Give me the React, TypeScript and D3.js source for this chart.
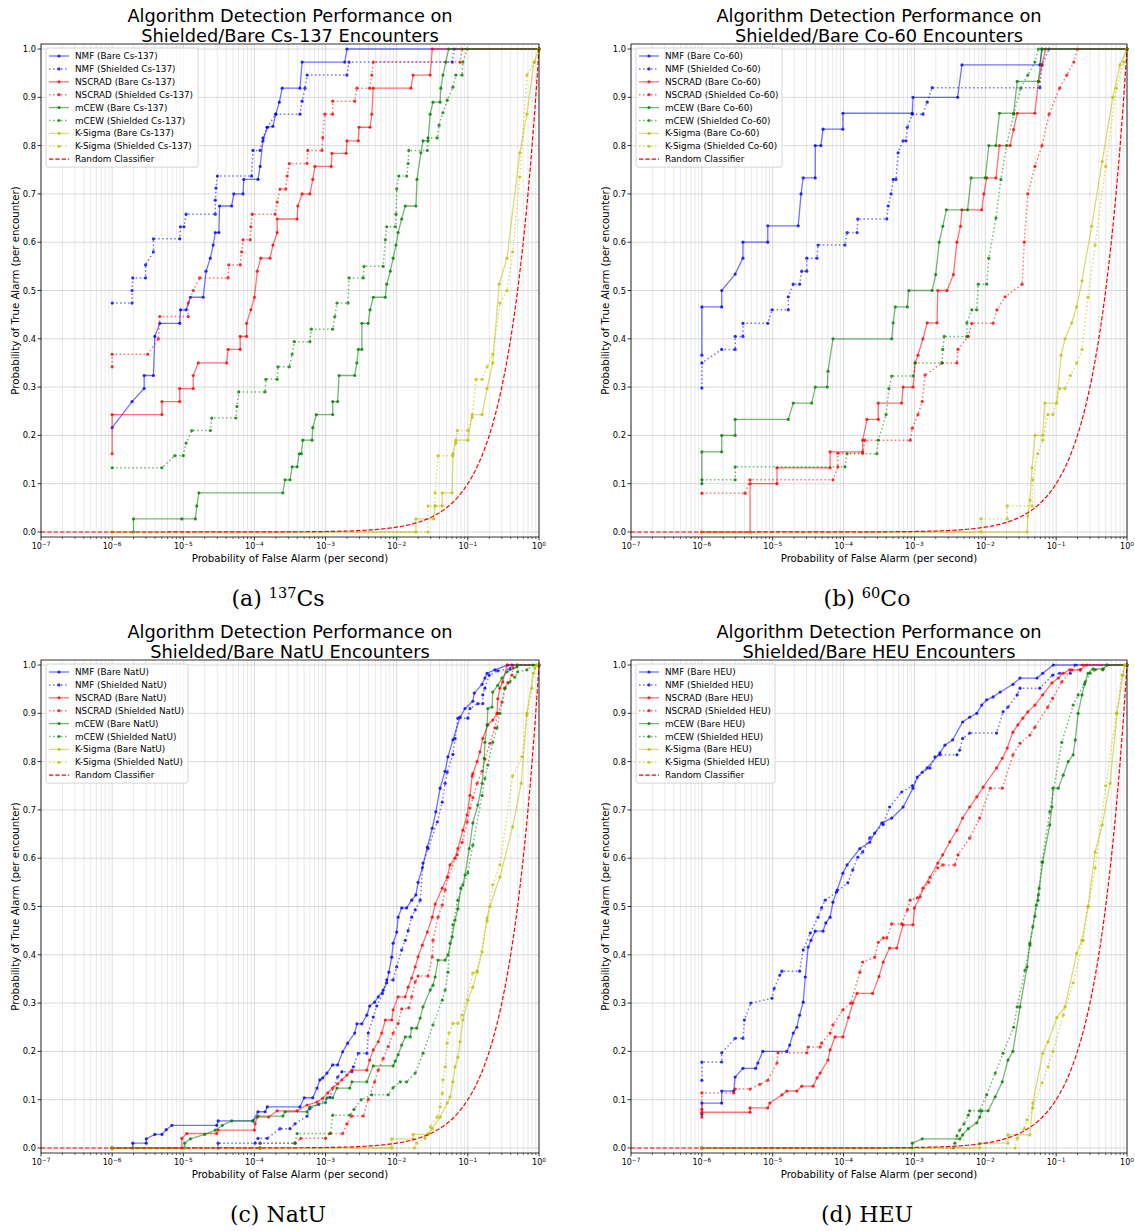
import React from 'react';
import * as d3 from 'd3';

// points are [log10(P_FA per second), P_TA per encounter]
type Pt = [number, number];

const algorithms = ['NMF', 'NSCRAD', 'mCEW', 'K-Sigma'];
const algoColors = ['#0000ff', '#ff0000', '#008000', '#bfbf00'];
const yTicks = [0, 0.1, 0.2, 0.3, 0.4, 0.5, 0.6, 0.7, 0.8, 0.9, 1.0];
const xDecades = [-7, -6, -5, -4, -3, -2, -1, 0];

// ---------- (a) Cs-137 ----------
const csNmfBare: Pt[] = [[-6,0.216],[-5.72,0.27],[-5.55,0.297],[-5.55,0.324],[-5.42,0.324],[-5.40,0.405],[-5.33,0.432],[-5.05,0.432],[-5.04,0.46],[-4.96,0.46],[-4.9,0.486],[-4.72,0.486],[-4.68,0.54],[-4.62,0.567],[-4.58,0.594],[-4.55,0.62],[-4.5,0.62],[-4.49,0.675],[-4.32,0.675],[-4.29,0.70],[-4.16,0.70],[-4.15,0.73],[-3.95,0.73],[-3.92,0.757],[-3.88,0.81],[-3.82,0.838],[-3.74,0.84],[-3.70,0.865],[-3.65,0.89],[-3.61,0.919],[-3.36,0.919],[-3.33,0.973],[-2.73,0.973],[-2.70,1.0],[0,1.0]];
const csNmfShielded: Pt[] = [[-6,0.474],[-5.72,0.474],[-5.72,0.50],[-5.71,0.526],[-5.53,0.526],[-5.53,0.553],[-5.42,0.58],[-5.42,0.607],[-5.05,0.607],[-5.04,0.632],[-4.99,0.632],[-4.96,0.658],[-4.55,0.658],[-4.55,0.687],[-4.54,0.712],[-4.52,0.737],[-4.04,0.737],[-4.02,0.79],[-3.92,0.79],[-3.88,0.816],[-3.82,0.838],[-3.70,0.865],[-3.36,0.865],[-3.33,0.892],[-3.29,0.919],[-3.26,0.946],[-2.70,0.946],[-2.67,0.973],[-1.22,0.973],[-1.19,1.0],[0,1.0]];
const csNscradBare: Pt[] = [[-6,0.162],[-6,0.243],[-5.3,0.243],[-5.3,0.27],[-5.05,0.27],[-5.05,0.297],[-4.86,0.297],[-4.86,0.324],[-4.79,0.35],[-4.39,0.35],[-4.37,0.378],[-4.2,0.378],[-4.2,0.405],[-4.11,0.405],[-4.11,0.432],[-4.05,0.46],[-4.0,0.486],[-3.96,0.54],[-3.91,0.567],[-3.78,0.567],[-3.74,0.594],[-3.68,0.62],[-3.68,0.648],[-3.40,0.648],[-3.39,0.675],[-3.33,0.70],[-3.22,0.70],[-3.18,0.73],[-3.15,0.757],[-2.92,0.757],[-2.91,0.784],[-2.71,0.784],[-2.70,0.81],[-2.54,0.81],[-2.53,0.838],[-2.375,0.838],[-2.35,0.865],[-2.33,0.919],[-1.80,0.919],[-1.77,0.946],[-1.53,0.946],[-1.50,1.0],[0,1.0]];
const csNscradShielded: Pt[] = [[-6,0.342],[-6,0.368],[-5.5,0.368],[-5.35,0.40],[-5.33,0.446],[-4.93,0.446],[-4.93,0.474],[-4.86,0.50],[-4.77,0.526],[-4.37,0.526],[-4.36,0.553],[-4.2,0.553],[-4.18,0.58],[-4.16,0.605],[-4.06,0.605],[-4.05,0.632],[-4.03,0.658],[-3.71,0.658],[-3.68,0.683],[-3.64,0.71],[-3.56,0.71],[-3.54,0.737],[-3.51,0.763],[-3.26,0.763],[-3.25,0.79],[-3.05,0.79],[-3.04,0.816],[-3.01,0.865],[-2.9,0.865],[-2.9,0.892],[-2.59,0.892],[-2.56,0.919],[-2.38,0.919],[-2.35,0.946],[-2.33,0.973],[-1.11,0.973],[-1.08,1.0],[0,1.0]];
const csMcewBare: Pt[] = [[-5.70,0],[-5.70,0.027],[-5.02,0.027],[-4.83,0.027],[-4.81,0.054],[-4.78,0.081],[-3.60,0.081],[-3.57,0.108],[-3.50,0.108],[-3.47,0.135],[-3.40,0.135],[-3.37,0.162],[-3.34,0.162],[-3.32,0.19],[-3.19,0.19],[-3.18,0.216],[-3.13,0.243],[-2.9,0.243],[-2.9,0.27],[-2.83,0.27],[-2.81,0.324],[-2.59,0.324],[-2.56,0.35],[-2.54,0.378],[-2.49,0.378],[-2.49,0.432],[-2.40,0.432],[-2.375,0.46],[-2.33,0.486],[-2.16,0.486],[-2.14,0.513],[-2.09,0.54],[-2.05,0.567],[-2.01,0.594],[-1.98,0.62],[-1.93,0.648],[-1.88,0.675],[-1.73,0.675],[-1.715,0.73],[-1.66,0.785],[-1.63,0.81],[-1.56,0.81],[-1.53,0.865],[-1.49,0.89],[-1.39,0.89],[-1.38,0.919],[-1.35,0.946],[-1.31,0.973],[-1.27,1.0],[0,1.0]];
const csMcewShielded: Pt[] = [[-6,0.133],[-5.3,0.133],[-5.12,0.158],[-5.0,0.158],[-4.96,0.184],[-4.88,0.21],[-4.62,0.21],[-4.6,0.236],[-4.26,0.236],[-4.245,0.26],[-4.22,0.29],[-3.85,0.29],[-3.84,0.316],[-3.68,0.316],[-3.67,0.342],[-3.51,0.342],[-3.47,0.368],[-3.44,0.394],[-3.22,0.394],[-3.2,0.42],[-2.9,0.42],[-2.87,0.446],[-2.84,0.474],[-2.685,0.474],[-2.67,0.526],[-2.47,0.526],[-2.46,0.55],[-2.19,0.55],[-2.16,0.605],[-2.14,0.632],[-2.02,0.632],[-2.01,0.658],[-2.0,0.71],[-1.97,0.737],[-1.86,0.737],[-1.84,0.763],[-1.83,0.79],[-1.57,0.79],[-1.56,0.816],[-1.43,0.816],[-1.405,0.842],[-1.35,0.868],[-1.29,0.894],[-1.21,0.921],[-1.17,0.946],[-1.08,0.946],[-1.07,0.973],[-1.01,1.0],[0,1.0]];
const csKsigmaBare: Pt[] = [[-6,0],[-1.73,0],[-1.73,0.027],[-1.48,0.027],[-1.46,0.054],[-1.36,0.054],[-1.36,0.081],[-1.22,0.081],[-1.21,0.162],[-1.17,0.19],[-1.0,0.19],[-0.94,0.243],[-0.8,0.243],[-0.73,0.297],[-0.65,0.35],[-0.56,0.513],[-0.45,0.567],[-0.27,0.785],[-0.17,0.865],[-0.07,0.973],[0,1.0]];
const csKsigmaShielded: Pt[] = [[-6,0],[-1.56,0],[-1.56,0.054],[-1.46,0.054],[-1.46,0.081],[-1.42,0.158],[-1.21,0.158],[-1.17,0.184],[-1.15,0.21],[-1.0,0.21],[-0.94,0.237],[-0.885,0.316],[-0.8,0.316],[-0.73,0.342],[-0.65,0.368],[-0.55,0.474],[-0.45,0.50],[-0.37,0.58],[-0.27,0.735],[-0.17,0.946],[-0.06,0.973],[0,1.0]];

// ---------- (b) Co-60 ----------
const coNmfBare: Pt[] = [[-6,0.366],[-6,0.466],[-5.72,0.466],[-5.72,0.50],[-5.53,0.534],[-5.42,0.567],[-5.42,0.60],[-5.07,0.60],[-5.07,0.634],[-4.64,0.634],[-4.60,0.70],[-4.57,0.733],[-4.40,0.733],[-4.40,0.80],[-4.32,0.80],[-4.29,0.834],[-4.01,0.834],[-4.01,0.867],[-3.03,0.867],[-3.02,0.90],[-2.39,0.90],[-2.33,0.967],[-1.23,0.967],[-1.20,1.0],[0,1.0]];
const coNmfShielded: Pt[] = [[-6,0.298],[-6,0.35],[-5.72,0.378],[-5.53,0.378],[-5.53,0.405],[-5.42,0.405],[-5.42,0.432],[-5.07,0.432],[-5.01,0.46],[-4.78,0.46],[-4.78,0.487],[-4.71,0.513],[-4.62,0.513],[-4.59,0.54],[-4.52,0.54],[-4.52,0.567],[-4.375,0.567],[-4.36,0.594],[-3.98,0.594],[-3.95,0.62],[-3.81,0.62],[-3.80,0.648],[-3.39,0.648],[-3.37,0.675],[-3.33,0.70],[-3.30,0.73],[-3.26,0.73],[-3.23,0.785],[-3.16,0.81],[-3.12,0.81],[-3.1,0.838],[-3.03,0.865],[-2.88,0.865],[-2.82,0.89],[-2.75,0.92],[-1.23,0.92],[-1.2,0.967],[-1.1,1.0],[0,1.0]];
const coNscradBare: Pt[] = [[-6,0],[-5.32,0],[-5.32,0.10],[-4.94,0.10],[-4.94,0.133],[-4.19,0.133],[-4.19,0.166],[-3.73,0.166],[-3.73,0.19],[-3.67,0.233],[-3.51,0.233],[-3.51,0.267],[-3.18,0.267],[-3.16,0.30],[-3.02,0.30],[-2.99,0.35],[-2.95,0.366],[-2.88,0.40],[-2.82,0.433],[-2.68,0.433],[-2.67,0.50],[-2.54,0.50],[-2.45,0.533],[-2.40,0.60],[-2.35,0.633],[-2.33,0.667],[-2.05,0.667],[-2.02,0.70],[-1.98,0.733],[-1.85,0.733],[-1.80,0.80],[-1.65,0.80],[-1.6,0.833],[-1.55,0.867],[-1.3,0.867],[-1.25,0.933],[-1.2,0.967],[-1.15,1.0],[0,1.0]];
const coNscradShielded: Pt[] = [[-6,0.08],[-5.39,0.08],[-5.32,0.108],[-4.15,0.108],[-4.08,0.135],[-4.08,0.163],[-3.73,0.163],[-3.7,0.19],[-3.06,0.19],[-3.03,0.215],[-2.95,0.243],[-2.89,0.27],[-2.85,0.325],[-2.61,0.35],[-2.40,0.35],[-2.385,0.378],[-2.24,0.405],[-2.19,0.432],[-1.89,0.432],[-1.835,0.46],[-1.72,0.487],[-1.48,0.513],[-1.45,0.60],[-1.4,0.70],[-1.3,0.757],[-1.2,0.80],[-1.1,0.865],[-0.95,0.919],[-0.85,0.946],[-0.75,0.973],[-0.7,1.0],[0,1.0]];
const coMcewBare: Pt[] = [[-6,0.10],[-6,0.166],[-5.72,0.166],[-5.72,0.20],[-5.53,0.20],[-5.53,0.233],[-4.78,0.233],[-4.71,0.267],[-4.45,0.267],[-4.40,0.30],[-4.23,0.30],[-4.22,0.333],[-4.15,0.40],[-3.32,0.40],[-3.30,0.433],[-3.27,0.466],[-3.1,0.466],[-3.08,0.50],[-2.75,0.50],[-2.7,0.533],[-2.65,0.60],[-2.6,0.633],[-2.55,0.667],[-2.25,0.667],[-2.2,0.733],[-2.0,0.733],[-1.95,0.80],[-1.85,0.80],[-1.8,0.867],[-1.6,0.867],[-1.55,0.933],[-1.25,0.933],[-1.2,1.0],[0,1.0]];
const coMcewShielded: Pt[] = [[-6,0.108],[-5.53,0.108],[-5.53,0.135],[-3.98,0.135],[-3.95,0.162],[-3.53,0.162],[-3.51,0.19],[-3.4,0.243],[-3.36,0.297],[-3.32,0.323],[-3.02,0.323],[-2.99,0.35],[-2.61,0.35],[-2.60,0.378],[-2.58,0.405],[-2.26,0.405],[-2.26,0.433],[-2.19,0.46],[-2.12,0.46],[-2.10,0.513],[-1.98,0.513],[-1.95,0.567],[-1.85,0.65],[-1.78,0.73],[-1.7,0.80],[-1.6,0.865],[-1.5,0.919],[-1.4,0.946],[-1.3,0.973],[-1.25,1.0],[0,1.0]];
const coKsigmaBare: Pt[] = [[-6,0],[-1.41,0],[-1.40,0.033],[-1.37,0.066],[-1.34,0.133],[-1.30,0.20],[-1.19,0.20],[-1.16,0.267],[-0.99,0.267],[-0.93,0.366],[-0.875,0.40],[-0.78,0.433],[-0.71,0.466],[-0.635,0.52],[-0.5,0.633],[-0.35,0.767],[-0.2,0.90],[-0.1,0.967],[0,1.0]];
const coKsigmaShielded: Pt[] = [[-6,0],[-2.06,0],[-2.06,0.027],[-1.69,0.027],[-1.69,0.054],[-1.34,0.054],[-1.33,0.108],[-1.26,0.162],[-1.19,0.19],[-1.115,0.243],[-1.045,0.243],[-0.95,0.297],[-0.875,0.297],[-0.8,0.324],[-0.71,0.35],[-0.635,0.378],[-0.55,0.486],[-0.45,0.594],[-0.3,0.757],[-0.15,0.919],[-0.05,0.973],[0,1.0]];

// ---------- (c) NatU ----------
const natNmfBare: Pt[] = [[-5.71,0],[-5.71,0.01],[-5.52,0.01],[-5.52,0.019],[-5.40,0.028],[-5.30,0.028],[-5.24,0.038],[-5.16,0.047],[-4.53,0.047],[-4.51,0.056],[-4.02,0.056],[-3.95,0.075],[-3.85,0.075],[-3.82,0.085],[-3.36,0.085],[-3.30,0.104],[-3.18,0.104],[-3.12,0.124],[-3.08,0.141],[-3.04,0.145],[-2.98,0.155],[-2.9,0.172],[-2.83,0.172],[-2.76,0.199],[-2.69,0.217],[-2.59,0.238],[-2.56,0.257],[-2.49,0.257],[-2.42,0.275],[-2.38,0.294],[-2.31,0.302],[-2.26,0.313],[-2.19,0.327],[-2.14,0.342],[-2.11,0.364],[-2.07,0.395],[-2.05,0.424],[-2.0,0.447],[-1.98,0.478],[-1.93,0.497],[-1.86,0.497],[-1.79,0.513],[-1.73,0.524],[-1.70,0.55],[-1.64,0.58],[-1.57,0.623],[-1.50,0.662],[-1.45,0.696],[-1.39,0.745],[-1.32,0.78],[-1.28,0.81],[-1.21,0.845],[-1.11,0.892],[-1.04,0.91],[-0.93,0.925],[-0.91,0.942],[-0.80,0.96],[-0.76,0.973],[-0.73,0.983],[-0.62,0.99],[-0.44,1.0],[0,1.0]];
const natNmfShielded: Pt[] = [[-6,0],[-4.51,0],[-4.51,0.01],[-3.99,0.01],[-3.95,0.02],[-3.82,0.02],[-3.64,0.04],[-3.5,0.04],[-3.43,0.05],[-3.26,0.066],[-3.22,0.082],[-3.1,0.09],[-2.94,0.105],[-2.83,0.147],[-2.77,0.158],[-2.63,0.158],[-2.61,0.168],[-2.54,0.196],[-2.42,0.196],[-2.40,0.238],[-2.33,0.271],[-2.28,0.294],[-2.2,0.32],[-2.14,0.348],[-2.05,0.348],[-2.0,0.375],[-1.93,0.41],[-1.88,0.43],[-1.84,0.45],[-1.79,0.478],[-1.74,0.493],[-1.67,0.513],[-1.63,0.59],[-1.56,0.62],[-1.43,0.675],[-1.36,0.716],[-1.32,0.755],[-1.29,0.778],[-1.21,0.815],[-1.18,0.848],[-1.14,0.89],[-1.0,0.89],[-0.97,0.91],[-0.86,0.92],[-0.79,0.92],[-0.79,0.938],[-0.76,0.952],[-0.70,0.979],[-0.58,0.988],[-0.41,0.992],[-0.38,1.0],[0,1.0]];
const natNscradBare: Pt[] = [[-6,0],[-5.02,0],[-5.02,0.02],[-4.95,0.03],[-4.53,0.03],[-4.51,0.037],[-4.0,0.037],[-3.99,0.05],[-3.96,0.064],[-3.8,0.064],[-3.68,0.077],[-3.40,0.077],[-3.26,0.089],[-3.12,0.095],[-3.04,0.103],[-2.97,0.114],[-2.9,0.124],[-2.83,0.133],[-2.77,0.141],[-2.7,0.151],[-2.63,0.161],[-2.42,0.161],[-2.38,0.182],[-2.33,0.203],[-2.26,0.22],[-2.21,0.238],[-2.16,0.265],[-2.07,0.265],[-2.05,0.286],[-1.98,0.313],[-1.88,0.313],[-1.84,0.333],[-1.79,0.352],[-1.74,0.375],[-1.70,0.396],[-1.64,0.42],[-1.57,0.447],[-1.50,0.478],[-1.46,0.505],[-1.36,0.538],[-1.29,0.561],[-1.25,0.586],[-1.18,0.60],[-1.14,0.62],[-1.07,0.658],[-1.01,0.69],[-0.97,0.73],[-0.94,0.77],[-0.93,0.775],[-0.87,0.80],[-0.83,0.82],[-0.79,0.848],[-0.72,0.876],[-0.65,0.886],[-0.59,0.90],[-0.58,0.93],[-0.55,0.952],[-0.51,0.965],[-0.45,1.0],[0,1.0]];
const natNscradShielded: Pt[] = [[-6,0],[-3.92,0],[-3.92,0.01],[-3.43,0.01],[-3.35,0.02],[-3.0,0.02],[-2.94,0.03],[-2.76,0.03],[-2.7,0.05],[-2.63,0.066],[-2.47,0.066],[-2.40,0.10],[-2.31,0.137],[-2.26,0.161],[-2.19,0.185],[-2.12,0.21],[-2.05,0.238],[-1.98,0.258],[-1.93,0.288],[-1.83,0.29],[-1.79,0.313],[-1.74,0.344],[-1.70,0.356],[-1.56,0.356],[-1.50,0.396],[-1.49,0.43],[-1.42,0.478],[-1.36,0.503],[-1.32,0.534],[-1.28,0.561],[-1.15,0.607],[-1.08,0.633],[-1.01,0.675],[-0.97,0.704],[-0.93,0.725],[-0.87,0.755],[-0.80,0.78],[-0.76,0.805],[-0.69,0.838],[-0.62,0.87],[-0.58,0.90],[-0.52,0.923],[-0.48,0.952],[-0.44,0.963],[-0.38,0.979],[-0.365,0.994],[-0.31,1.0],[0,1.0]];
const natMcewBare: Pt[] = [[-6,0],[-4.98,0],[-4.98,0.01],[-4.9,0.019],[-4.7,0.028],[-4.55,0.037],[-4.45,0.047],[-4.32,0.056],[-4.02,0.056],[-3.95,0.066],[-3.6,0.066],[-3.57,0.075],[-3.26,0.075],[-3.22,0.085],[-3.0,0.094],[-2.98,0.104],[-2.9,0.104],[-2.84,0.124],[-2.66,0.124],[-2.63,0.137],[-2.42,0.137],[-2.33,0.17],[-2.05,0.17],[-2.02,0.18],[-1.98,0.193],[-1.93,0.213],[-1.88,0.23],[-1.81,0.23],[-1.79,0.248],[-1.72,0.248],[-1.67,0.269],[-1.63,0.292],[-1.53,0.327],[-1.49,0.337],[-1.46,0.354],[-1.42,0.389],[-1.32,0.389],[-1.28,0.40],[-1.22,0.437],[-1.18,0.472],[-1.14,0.495],[-1.10,0.538],[-1.07,0.545],[-1.04,0.565],[-0.98,0.62],[-0.93,0.673],[-0.86,0.71],[-0.80,0.755],[-0.77,0.807],[-0.76,0.84],[-0.73,0.876],[-0.72,0.91],[-0.66,0.913],[-0.65,0.944],[-0.58,0.958],[-0.52,0.973],[-0.45,0.986],[-0.31,0.996],[-0.30,1.0],[0,1.0]];
const natMcewShielded: Pt[] = [[-6,0],[-3.92,0],[-3.92,0.01],[-3.43,0.01],[-3.40,0.03],[-2.93,0.03],[-2.9,0.068],[-2.66,0.068],[-2.6,0.08],[-2.5,0.10],[-2.35,0.11],[-2.12,0.11],[-2.05,0.125],[-1.95,0.137],[-1.86,0.137],[-1.74,0.155],[-1.63,0.196],[-1.49,0.255],[-1.36,0.306],[-1.32,0.327],[-1.28,0.364],[-1.25,0.424],[-1.21,0.462],[-1.14,0.513],[-1.0,0.57],[-0.93,0.627],[-0.8,0.73],[-0.76,0.765],[-0.72,0.793],[-0.65,0.84],[-0.59,0.87],[-0.55,0.90],[-0.48,0.952],[-0.41,0.965],[-0.34,0.975],[-0.30,0.986],[-0.17,0.99],[-0.08,1.0],[0,1.0]];
const natKsigmaBare: Pt[] = [[-6,0],[-2.07,0],[-2.07,0.019],[-1.77,0.019],[-1.77,0.028],[-1.56,0.028],[-1.5,0.04],[-1.39,0.064],[-1.29,0.093],[-1.25,0.106],[-1.21,0.137],[-1.18,0.168],[-1.14,0.188],[-1.11,0.22],[-1.07,0.265],[-1.0,0.306],[-0.93,0.333],[-0.87,0.364],[-0.80,0.406],[-0.73,0.476],[-0.69,0.50],[-0.55,0.561],[-0.37,0.665],[-0.25,0.755],[-0.17,0.90],[-0.08,0.983],[-0.03,1.0],[0,1.0]];
const natKsigmaShielded: Pt[] = [[-6,0],[-1.75,0],[-1.72,0.01],[-1.6,0.02],[-1.55,0.03],[-1.53,0.044],[-1.43,0.064],[-1.39,0.085],[-1.36,0.113],[-1.35,0.141],[-1.32,0.168],[-1.29,0.217],[-1.265,0.238],[-1.21,0.258],[-1.14,0.258],[-1.08,0.275],[-0.93,0.362],[-0.87,0.366],[-0.73,0.47],[-0.65,0.545],[-0.55,0.586],[-0.37,0.77],[-0.24,0.81],[-0.17,0.896],[-0.10,0.952],[-0.06,0.994],[-0.03,1.0],[0,1.0]];

// ---------- (d) HEU ----------
const heuNmfBare: Pt[] = [[-6,0.07],[-6,0.093],[-5.72,0.093],[-5.72,0.118],[-5.55,0.118],[-5.53,0.147],[-5.42,0.165],[-5.24,0.165],[-5.21,0.176],[-5.14,0.20],[-4.80,0.20],[-4.76,0.213],[-4.71,0.238],[-4.66,0.25],[-4.62,0.275],[-4.57,0.302],[-4.54,0.354],[-4.50,0.416],[-4.46,0.43],[-4.40,0.449],[-4.29,0.449],[-4.25,0.466],[-4.19,0.478],[-4.15,0.509],[-4.09,0.534],[-4.01,0.569],[-3.95,0.586],[-3.77,0.62],[-3.63,0.633],[-3.56,0.652],[-3.46,0.673],[-3.32,0.683],[-3.16,0.706],[-3.02,0.745],[-2.96,0.768],[-2.82,0.787],[-2.64,0.818],[-2.57,0.834],[-2.46,0.845],[-2.32,0.882],[-2.22,0.892],[-2.12,0.90],[-2.05,0.917],[-1.98,0.928],[-1.89,0.934],[-1.79,0.944],[-1.61,0.96],[-1.51,0.973],[-1.27,0.973],[-1.19,0.983],[-1.04,1.0],[0,1.0]];
const heuNmfShielded: Pt[] = [[-6,0.14],[-6,0.178],[-5.72,0.178],[-5.72,0.197],[-5.53,0.227],[-5.42,0.227],[-5.40,0.265],[-5.31,0.30],[-5.01,0.31],[-4.98,0.33],[-4.90,0.358],[-4.87,0.366],[-4.62,0.366],[-4.57,0.41],[-4.47,0.445],[-4.36,0.478],[-4.31,0.497],[-4.26,0.513],[-4.1,0.53],[-3.94,0.549],[-3.87,0.576],[-3.80,0.602],[-3.73,0.613],[-3.63,0.642],[-3.44,0.67],[-3.35,0.706],[-3.18,0.737],[-3.03,0.75],[-2.89,0.778],[-2.78,0.787],[-2.71,0.81],[-2.64,0.814],[-2.40,0.814],[-2.36,0.824],[-2.32,0.848],[-2.22,0.859],[-1.84,0.859],[-1.75,0.903],[-1.68,0.913],[-1.55,0.938],[-1.51,0.952],[-1.23,0.952],[-1.05,0.979],[-0.95,0.983],[-0.8,0.983],[-0.73,1.0],[0,1.0]];
const heuNscradBare: Pt[] = [[-6,0.064],[-6,0.074],[-5.32,0.074],[-5.32,0.083],[-5.07,0.083],[-5.04,0.093],[-4.87,0.11],[-4.80,0.118],[-4.66,0.118],[-4.59,0.128],[-4.43,0.128],[-4.375,0.145],[-4.33,0.155],[-4.22,0.182],[-4.19,0.203],[-4.12,0.23],[-4.01,0.23],[-3.93,0.27],[-3.87,0.30],[-3.81,0.32],[-3.59,0.32],[-3.5,0.355],[-3.44,0.385],[-3.35,0.414],[-3.25,0.414],[-3.16,0.462],[-3.02,0.462],[-3.0,0.497],[-2.92,0.52],[-2.88,0.538],[-2.78,0.561],[-2.67,0.59],[-2.6,0.607],[-2.5,0.634],[-2.4,0.658],[-2.32,0.683],[-2.22,0.706],[-2.12,0.727],[-2.03,0.747],[-1.84,0.787],[-1.76,0.807],[-1.69,0.828],[-1.61,0.861],[-1.54,0.876],[-1.47,0.89],[-1.40,0.903],[-1.30,0.917],[-1.19,0.938],[-1.06,0.963],[-0.97,0.973],[-0.90,0.983],[-0.81,0.99],[-0.66,0.99],[-0.57,1.0],[0,1.0]];
const heuNscradShielded: Pt[] = [[-6,0.08],[-6,0.114],[-5.55,0.114],[-5.53,0.122],[-5.32,0.122],[-5.18,0.132],[-5.07,0.14],[-4.94,0.176],[-4.925,0.197],[-4.52,0.197],[-4.50,0.209],[-4.33,0.209],[-4.31,0.217],[-4.19,0.238],[-4.15,0.255],[-4.01,0.286],[-3.9,0.30],[-3.77,0.364],[-3.73,0.385],[-3.56,0.395],[-3.51,0.426],[-3.44,0.435],[-3.39,0.435],[-3.32,0.464],[-3.18,0.464],[-3.1,0.493],[-3.06,0.513],[-2.96,0.518],[-2.8,0.55],[-2.67,0.58],[-2.6,0.586],[-2.43,0.586],[-2.385,0.607],[-2.22,0.642],[-2.08,0.683],[-1.93,0.745],[-1.76,0.745],[-1.61,0.814],[-1.51,0.838],[-1.37,0.855],[-1.30,0.871],[-1.12,0.913],[-1.05,0.931],[-0.92,0.965],[-0.78,0.99],[-0.66,0.99],[-0.62,1.0],[0,1.0]];
const heuMcewBare: Pt[] = [[-6,0],[-3.03,0],[-3.03,0.01],[-2.89,0.019],[-2.36,0.019],[-2.32,0.027],[-2.24,0.04],[-2.12,0.052],[-2.08,0.064],[-2.05,0.077],[-1.96,0.077],[-1.86,0.106],[-1.76,0.137],[-1.68,0.182],[-1.61,0.20],[-1.51,0.292],[-1.41,0.375],[-1.37,0.424],[-1.33,0.458],[-1.28,0.503],[-1.25,0.524],[-1.19,0.592],[-1.09,0.669],[-1.06,0.706],[-1.045,0.745],[-0.97,0.745],[-0.90,0.772],[-0.83,0.80],[-0.76,0.814],[-0.73,0.845],[-0.69,0.90],[-0.635,0.938],[-0.59,0.965],[-0.55,0.983],[-0.48,0.992],[-0.34,0.992],[-0.28,1.0],[0,1.0]];
const heuMcewShielded: Pt[] = [[-6,0],[-2.45,0],[-2.43,0.01],[-2.4,0.025],[-2.36,0.037],[-2.3,0.05],[-2.24,0.068],[-2.22,0.077],[-2.08,0.077],[-1.98,0.11],[-1.86,0.155],[-1.75,0.196],[-1.6,0.25],[-1.55,0.292],[-1.44,0.368],[-1.37,0.42],[-1.3,0.48],[-1.256,0.513],[-1.24,0.538],[-1.2,0.592],[-1.09,0.696],[-0.92,0.84],[-0.76,0.917],[-0.69,0.938],[-0.6,0.96],[-0.52,0.983],[-0.45,0.99],[-0.34,0.99],[-0.28,1.0],[0,1.0]];
const heuKsigmaBare: Pt[] = [[-6,0],[-2.08,0],[-2.08,0.01],[-1.68,0.01],[-1.68,0.027],[-1.37,0.027],[-1.33,0.093],[-1.19,0.196],[-1.115,0.22],[-0.99,0.27],[-0.875,0.292],[-0.71,0.403],[-0.635,0.43],[-0.55,0.50],[-0.45,0.613],[-0.35,0.669],[-0.24,0.755],[-0.14,0.90],[-0.06,0.979],[-0.03,1.0],[0,1.0]];
const heuKsigmaShielded: Pt[] = [[-6,0],[-1.58,0],[-1.55,0.02],[-1.45,0.04],[-1.41,0.058],[-1.33,0.083],[-1.20,0.135],[-1.115,0.168],[-1.045,0.20],[-0.90,0.275],[-0.76,0.342],[-0.62,0.43],[-0.55,0.50],[-0.45,0.58],[-0.3,0.75],[-0.15,0.90],[-0.07,0.979],[-0.03,1.0],[0,1.0]];

// random classifier: P_TA = P_FA
const randomLogs = d3.range(-7, 0.0001, 0.025);

const panels = [
  { source: 'Cs-137', letter: '(a)', sup: '137', el: 'Cs', legendW: 152,
    series: [csNmfBare, csNmfShielded, csNscradBare, csNscradShielded, csMcewBare, csMcewShielded, csKsigmaBare, csKsigmaShielded],
    box: { x0: 41, x1: 539, top: 44, bottom: 537 }, capX: 278, capY: 606 },
  { source: 'Co-60', letter: '(b)', sup: '60', el: 'Co', legendW: 146,
    series: [coNmfBare, coNmfShielded, coNscradBare, coNscradShielded, coMcewBare, coMcewShielded, coKsigmaBare, coKsigmaShielded],
    box: { x0: 631, x1: 1127, top: 44, bottom: 537 }, capX: 867, capY: 606 },
  { source: 'NatU', letter: '(c)', sup: '', el: 'NatU', legendW: 142,
    series: [natNmfBare, natNmfShielded, natNscradBare, natNscradShielded, natMcewBare, natMcewShielded, natKsigmaBare, natKsigmaShielded],
    box: { x0: 41, x1: 539, top: 660, bottom: 1153 }, capX: 278, capY: 1222 },
  { source: 'HEU', letter: '(d)', sup: '', el: 'HEU', legendW: 139,
    series: [heuNmfBare, heuNmfShielded, heuNscradBare, heuNscradShielded, heuMcewBare, heuMcewShielded, heuKsigmaBare, heuKsigmaShielded],
    box: { x0: 631, x1: 1127, top: 660, bottom: 1153 }, capX: 867, capY: 1222 },
];

const SANS = '"DejaVu Sans", Verdana, sans-serif';
const SERIF = '"DejaVu Serif", "Liberation Serif", serif';

function Panel({ p }: { p: typeof panels[number] }) {
  const { box } = p;
  const x = d3.scaleLog().domain([1e-7, 1]).range([box.x0, box.x1]);
  const y = d3.scaleLinear().domain([-0.0104, 1.0104]).range([box.bottom, box.top]);
  const line = d3.line<Pt>().x(d => x(Math.pow(10, d[0]))).y(d => y(d[1]));
  const minor: number[] = [];
  xDecades.slice(0, -1).forEach(e => { for (let k = 2; k <= 9; k++) minor.push(k * Math.pow(10, e)); });
  const cx = (box.x0 + box.x1) / 2;
  const cy = (y(0) + y(1)) / 2;
  const randomPts: Pt[] = randomLogs.map(l => [l, Math.pow(10, l)]);
  const labels = algorithms.flatMap(a => [`${a} (Bare ${p.source})`, `${a} (Shielded ${p.source})`]);
  const lgX = box.x0 + 5, lgY = box.top + 4, rowH = 12.9;

  return (
    <g>
      {/* title */}
      <text x={cx} y={box.top - 22} textAnchor="middle" fontFamily={SANS} fontSize={17.8} fill="#000">Algorithm Detection Performance on</text>
      <text x={cx} y={box.top - 2} textAnchor="middle" fontFamily={SANS} fontSize={17.8} fill="#000">{`Shielded/Bare ${p.source} Encounters`}</text>

      {/* grid */}
      <g>
        {minor.map((v, i) => <line key={'m' + i} x1={x(v)} x2={x(v)} y1={box.top} y2={box.bottom} stroke="#b0b0b0" strokeOpacity={0.35} strokeWidth={0.8} />)}
        {xDecades.map(e => <line key={'M' + e} x1={x(Math.pow(10, e))} x2={x(Math.pow(10, e))} y1={box.top} y2={box.bottom} stroke="#b0b0b0" strokeOpacity={0.6} strokeWidth={0.8} />)}
        {yTicks.map(t => <line key={'y' + t} x1={box.x0} x2={box.x1} y1={y(t)} y2={y(t)} stroke="#b0b0b0" strokeOpacity={0.6} strokeWidth={0.8} />)}
      </g>

      {/* series */}
      {p.series.map((s, k) => {
        const c = algoColors[Math.floor(k / 2)];
        const dotted = k % 2 === 1;
        return (
          <g key={k}>
            <path d={line(s) || ''} fill="none" stroke={c} strokeOpacity={0.55} strokeWidth={dotted ? 1.5 : 1.3}
              strokeDasharray={dotted ? '1.5,2.5' : undefined} />
            {s.map((d, i) => <circle key={i} cx={x(Math.pow(10, d[0]))} cy={y(d[1])} r={1.6} fill={c} fillOpacity={0.8} />)}
          </g>
        );
      })}
      <path d={line(randomPts) || ''} fill="none" stroke="#ff0000" strokeWidth={1.2} strokeDasharray="4.4,1.9" />

      {/* frame */}
      <rect x={box.x0} y={box.top} width={box.x1 - box.x0} height={box.bottom - box.top} fill="none" stroke="#000" strokeWidth={0.8} />

      {/* y ticks */}
      {yTicks.map(t => (
        <g key={'yt' + t}>
          <line x1={box.x0 - 3.5} x2={box.x0} y1={y(t)} y2={y(t)} stroke="#000" strokeWidth={0.8} />
          <text x={box.x0 - 5} y={y(t) + 3} textAnchor="end" fontFamily={SANS} fontSize={8.3} fill="#000">{t.toFixed(1)}</text>
        </g>
      ))}
      {/* x ticks */}
      {minor.map((v, i) => <line key={'xm' + i} x1={x(v)} x2={x(v)} y1={box.bottom} y2={box.bottom + 2} stroke="#000" strokeWidth={0.6} />)}
      {xDecades.map(e => (
        <g key={'xt' + e}>
          <line x1={x(Math.pow(10, e))} x2={x(Math.pow(10, e))} y1={box.bottom} y2={box.bottom + 3.5} stroke="#000" strokeWidth={0.8} />
          <text x={x(Math.pow(10, e))} y={box.bottom + 12} textAnchor="middle" fontFamily={SANS} fontSize={8} fill="#000">
            10<tspan dy={-3.5} fontSize={5.8}>{e === 0 ? '0' : `\u2212${-e}`}</tspan>
          </text>
        </g>
      ))}
      <text x={cx} y={box.bottom + 25} textAnchor="middle" fontFamily={SANS} fontSize={10.2} fill="#000">Probability of False Alarm (per second)</text>
      <text transform={`translate(${box.x0 - 22},${cy}) rotate(-90)`} textAnchor="middle" fontFamily={SANS} fontSize={10.2} fill="#000">Probability of True Alarm (per encounter)</text>

      {/* legend */}
      <g>
        <rect x={lgX} y={lgY} width={p.legendW} height={rowH * 9 + 3} rx={2} fill="#fff" fillOpacity={0.8} stroke="#cccccc" strokeWidth={0.8} />
        {labels.map((lab, k) => {
          const c = algoColors[Math.floor(k / 2)];
          const dotted = k % 2 === 1;
          const ry = lgY + 8 + k * rowH;
          return (
            <g key={lab}>
              <line x1={lgX + 3} x2={lgX + 23} y1={ry} y2={ry} stroke={c} strokeOpacity={0.55} strokeWidth={dotted ? 1.5 : 1.3}
                strokeDasharray={dotted ? '1.5,2.5' : undefined} />
              <circle cx={lgX + 13} cy={ry} r={1.6} fill={c} fillOpacity={0.8} />
              <text x={lgX + 29} y={ry + 3} fontFamily={SANS} fontSize={8.8} fill="#000">{lab}</text>
            </g>
          );
        })}
        <line x1={lgX + 3} x2={lgX + 23} y1={lgY + 8 + 8 * rowH} y2={lgY + 8 + 8 * rowH} stroke="#ff0000" strokeWidth={1.2} strokeDasharray="4.4,1.9" />
        <text x={lgX + 29} y={lgY + 11 + 8 * rowH} fontFamily={SANS} fontSize={8.8} fill="#000">Random Classifier</text>
      </g>

      {/* caption */}
      <text x={p.capX} y={p.capY} textAnchor="middle" fontFamily={SERIF} fontSize={22} fill="#000">
        {p.letter}{' '}
        {p.sup ? <tspan dy={-8} fontSize={14.5}>{p.sup}</tspan> : null}
        {p.sup ? <tspan dy={8}>{p.el}</tspan> : <tspan>{p.el}</tspan>}
      </text>
    </g>
  );
}

export default function App() {
  return (
    <svg width={1135} height={1231} style={{ position: 'absolute', left: 0, top: 0, background: '#fff' }}>
      <rect width={1135} height={1231} fill="#fff" />
      {panels.map(p => <Panel key={p.source} p={p} />)}
    </svg>
  );
}
